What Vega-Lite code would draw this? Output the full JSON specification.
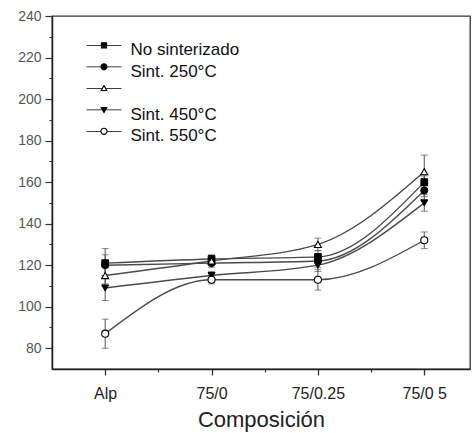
{
  "$schema": "https://vega.github.io/schema/vega-lite/v6.json",
  "width": 418,
  "height": 353,
  "autosize": {"type": "none"},
  "padding": {"left": 52, "top": 16, "right": 3, "bottom": 64},
  "background": "white",
  "config": {
    "view": {"stroke": "#333", "strokeWidth": 1.3},
    "font": "Liberation Sans",
    "axis": {"labelFont": "Liberation Sans", "titleFont": "Liberation Sans", "grid": false, "domainColor": "#222", "domainWidth": 1.5, "tickColor": "#333"}
  },
  "data": {
    "values": [
      {"pos": 1, "comp": "Alp", "serie": "No sinterizado", "val": 121, "lo": 114, "hi": 128},
      {"pos": 1, "comp": "Alp", "serie": "Sint. 250°C", "val": 120, "lo": 115, "hi": 125},
      {"pos": 1, "comp": "Alp", "serie": "Sin etiqueta", "val": 115, "lo": 111, "hi": 119},
      {"pos": 1, "comp": "Alp", "serie": "Sint. 450°C", "val": 109, "lo": 103, "hi": 115},
      {"pos": 1, "comp": "Alp", "serie": "Sint. 550°C", "val": 87, "lo": 80, "hi": 94},
      {"pos": 2, "comp": "75/0", "serie": "No sinterizado", "val": 123, "lo": 121, "hi": 125},
      {"pos": 2, "comp": "75/0", "serie": "Sint. 250°C", "val": 121, "lo": 119, "hi": 123},
      {"pos": 2, "comp": "75/0", "serie": "Sin etiqueta", "val": 122, "lo": 120, "hi": 124},
      {"pos": 2, "comp": "75/0", "serie": "Sint. 450°C", "val": 115, "lo": 113, "hi": 117},
      {"pos": 2, "comp": "75/0", "serie": "Sint. 550°C", "val": 113, "lo": 111, "hi": 115},
      {"pos": 3, "comp": "75/0.25", "serie": "No sinterizado", "val": 124, "lo": 121, "hi": 127},
      {"pos": 3, "comp": "75/0.25", "serie": "Sint. 250°C", "val": 122, "lo": 119, "hi": 125},
      {"pos": 3, "comp": "75/0.25", "serie": "Sin etiqueta", "val": 130, "lo": 127, "hi": 133},
      {"pos": 3, "comp": "75/0.25", "serie": "Sint. 450°C", "val": 120, "lo": 117, "hi": 123},
      {"pos": 3, "comp": "75/0.25", "serie": "Sint. 550°C", "val": 113, "lo": 108, "hi": 118},
      {"pos": 4, "comp": "75/0 5", "serie": "No sinterizado", "val": 160, "lo": 157, "hi": 163},
      {"pos": 4, "comp": "75/0 5", "serie": "Sint. 250°C", "val": 156, "lo": 153, "hi": 159},
      {"pos": 4, "comp": "75/0 5", "serie": "Sin etiqueta", "val": 165, "lo": 158, "hi": 173},
      {"pos": 4, "comp": "75/0 5", "serie": "Sint. 450°C", "val": 150, "lo": 146, "hi": 154},
      {"pos": 4, "comp": "75/0 5", "serie": "Sint. 550°C", "val": 132, "lo": 128, "hi": 136}
    ]
  },
  "resolve": {"axis": {"x": "independent", "y": "independent"}},
  "layer": [
    {
      "mark": {"type": "line", "interpolate": "monotone", "color": "#4a4a4a", "strokeWidth": 1.4},
      "encoding": {
        "x": {"field": "pos", "type": "quantitative",
              "scale": {"domain": [0.5, 4.43], "nice": false, "zero": false},
              "axis": {"values": [1, 2, 3, 4], "labelExpr": "['', 'Alp', '75/0', '75/0.25', '75/0 5'][datum.value]",
                       "title": "Composición", "titleFontSize": 22, "titleFontWeight": "normal", "titleColor": "#222", "titlePadding": 8,
                       "labelFontSize": 16, "labelColor": "#222", "labelPadding": 10, "tickSize": 6, "tickWidth": 1.3}},
        "y": {"field": "val", "type": "quantitative",
              "scale": {"domain": [70, 240], "nice": false, "zero": false},
              "axis": {"values": [80, 100, 120, 140, 160, 180, 200, 220, 240], "title": null,
                       "labelFontSize": 14, "labelColor": "#555", "labelPadding": 4, "tickSize": 7, "tickWidth": 1.2}},
        "detail": {"field": "serie"}
      }
    },
    {
      "mark": {"type": "rule", "color": "#555", "strokeWidth": 1},
      "encoding": {
        "x": {"field": "pos", "type": "quantitative",
              "axis": {"values": [1.5, 2.5, 3.5], "labels": false, "domain": false, "title": null, "tickSize": 3, "tickWidth": 1.2, "orient": "bottom"}},
        "y": {"field": "lo", "type": "quantitative",
              "axis": {"values": [90, 110, 130, 150, 170, 190, 210, 230], "labels": false, "domain": false, "title": null, "tickSize": 3, "tickWidth": 1, "orient": "left"}},
        "y2": {"field": "hi"}
      }
    },
    {
      "mark": {"type": "tick", "orient": "horizontal", "color": "#555", "size": 7, "thickness": 1},
      "encoding": {
        "x": {"field": "pos", "type": "quantitative", "axis": null},
        "y": {"field": "lo", "type": "quantitative", "axis": null}
      }
    },
    {
      "mark": {"type": "tick", "orient": "horizontal", "color": "#555", "size": 7, "thickness": 1},
      "encoding": {
        "x": {"field": "pos", "type": "quantitative", "axis": null},
        "y": {"field": "hi", "type": "quantitative", "axis": null}
      }
    },
    {
      "transform": [{"filter": {"field": "serie", "equal": "No sinterizado"}}],
      "mark": {"type": "point", "shape": "square", "filled": true, "fill": "black", "stroke": "black", "strokeWidth": 1, "size": 45, "opacity": 1},
      "encoding": {
        "x": {"field": "pos", "type": "quantitative", "axis": null},
        "y": {"field": "val", "type": "quantitative", "axis": null}
      }
    },
    {
      "transform": [{"filter": {"field": "serie", "equal": "Sint. 250°C"}}],
      "mark": {"type": "point", "shape": "circle", "filled": true, "fill": "black", "stroke": "black", "strokeWidth": 1, "size": 50, "opacity": 1},
      "encoding": {
        "x": {"field": "pos", "type": "quantitative", "axis": null},
        "y": {"field": "val", "type": "quantitative", "axis": null}
      }
    },
    {
      "transform": [{"filter": {"field": "serie", "equal": "Sin etiqueta"}}],
      "mark": {"type": "point", "shape": "triangle-up", "filled": true, "fill": "white", "stroke": "black", "strokeWidth": 1.1, "size": 50, "opacity": 1},
      "encoding": {
        "x": {"field": "pos", "type": "quantitative", "axis": null},
        "y": {"field": "val", "type": "quantitative", "axis": null}
      }
    },
    {
      "transform": [{"filter": {"field": "serie", "equal": "Sint. 450°C"}}],
      "mark": {"type": "point", "shape": "triangle-down", "filled": true, "fill": "black", "stroke": "black", "strokeWidth": 1, "size": 50, "opacity": 1},
      "encoding": {
        "x": {"field": "pos", "type": "quantitative", "axis": null},
        "y": {"field": "val", "type": "quantitative", "axis": null}
      }
    },
    {
      "transform": [{"filter": {"field": "serie", "equal": "Sint. 550°C"}}],
      "mark": {"type": "point", "shape": "circle", "filled": true, "fill": "white", "stroke": "black", "strokeWidth": 1.1, "size": 50, "opacity": 1},
      "encoding": {
        "x": {"field": "pos", "type": "quantitative", "axis": null},
        "y": {"field": "val", "type": "quantitative", "axis": null}
      }
    },
    {
      "mark": {"type": "point", "filled": true, "color": "black", "opacity": 0},
      "encoding": {
        "x": {"field": "pos", "type": "quantitative", "axis": null},
        "y": {"field": "val", "type": "quantitative", "axis": null},
        "shape": {"field": "serie", "type": "nominal",
                  "scale": {"domain": ["No sinterizado", "Sint. 250°C", "Sin etiqueta", "Sint. 450°C", "Sint. 550°C"],
                            "range": [
                              "M-5,-1.44H-0.9V-1.24H-5ZM0.9,-1.44H5V-1.24H0.9ZM-0.9,-2.24H0.9V-0.44H-0.9Z",
                              "M-5,-1.44H-1V-1.24H-5ZM1,-1.44H5V-1.24H1ZM-1.02,-1.34A1.02,1.02,0,1,1,1.02,-1.34A1.02,1.02,0,1,1,-1.02,-1.34Z",
                              "M-5,-1.44H-0.62V-1.24H-5ZM0.62,-1.44H5V-1.24H0.62ZM0,-2.44L1.08,-0.54H-1.08ZM0,-1.82L-0.55,-0.84H0.55Z",
                              "M-5,-1.44H-0.62V-1.24H-5ZM0.62,-1.44H5V-1.24H0.62ZM0,-0.24L1.08,-2.14H-1.08Z",
                              "M-5,-1.44H-1V-1.24H-5ZM1,-1.44H5V-1.24H1ZM-1.05,-1.34A1.05,1.05,0,1,1,1.05,-1.34A1.05,1.05,0,1,1,-1.05,-1.34ZM-0.72,-1.34A0.72,0.72,0,1,0,0.72,-1.34A0.72,0.72,0,1,0,-0.72,-1.34Z"
                            ]},
                  "legend": {"orient": "none", "legendX": 43.5, "legendY": 25.5, "title": null, "padding": 0,
                             "symbolSize": 49, "symbolOffset": 0, "labelOffset": 18, "rowPadding": 3.5,
                             "symbolOpacity": 1, "symbolFillColor": "black", "symbolStrokeWidth": 0,
                             "labelFontSize": 17, "labelColor": "#111", "labelFont": "Liberation Sans",
                             "labelExpr": "datum.label == 'Sin etiqueta' ? '' : datum.label"}}
      }
    }
  ]
}
